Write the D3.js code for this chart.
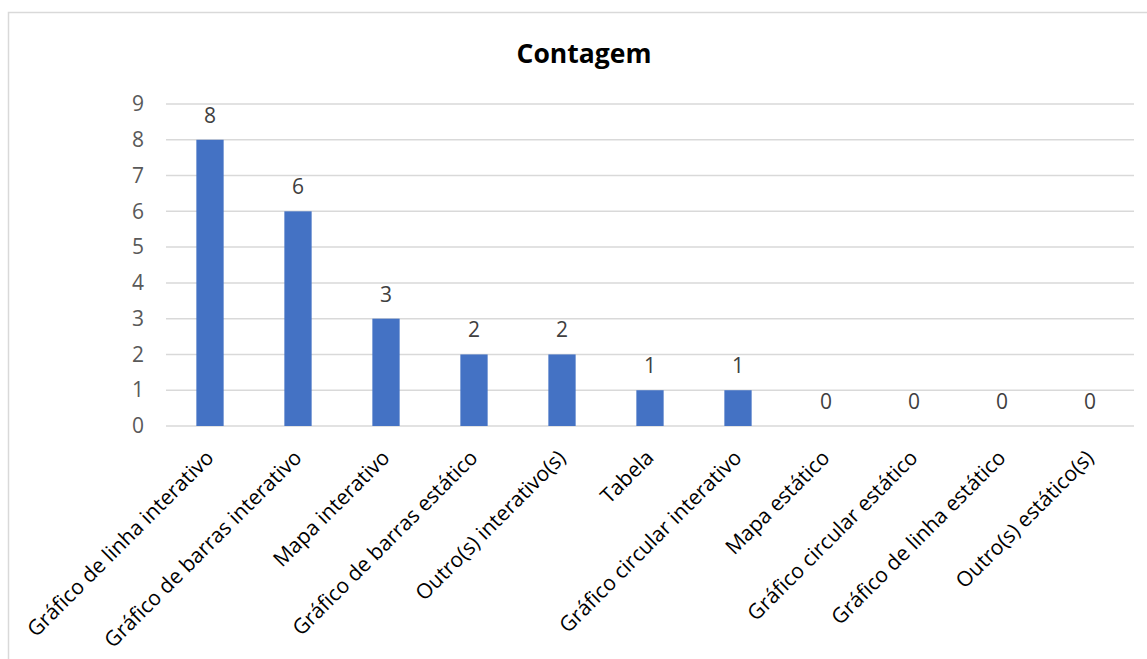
<!DOCTYPE html>
<html>
<head>
<meta charset="utf-8">
<script src="https://cdn.jsdelivr.net/npm/d3@7"></script>
<style>
  html, body { margin: 0; padding: 0; background: #fff; }
  svg { display: block; }
</style>
</head>
<body>
<svg id="chart" width="1147" height="659"></svg>
<script>
// Chart data
const categories = [
  "Gráfico de linha interativo",
  "Gráfico de barras interativo",
  "Mapa interativo",
  "Gráfico de barras estático",
  "Outro(s) interativo(s)",
  "Tabela",
  "Gráfico circular interativo",
  "Mapa estático",
  "Gráfico circular estático",
  "Gráfico de linha estático",
  "Outro(s) estático(s)"
];
const counts = [8, 6, 3, 2, 2, 1, 1, 0, 0, 0, 0];
const yTicks = [0, 1, 2, 3, 4, 5, 6, 7, 8, 9];
const title = "Contagem";

const svg = d3.select("#chart");
const font = "'Open Sans', 'Noto Sans', sans-serif";

// Outer chart frame
svg.append("rect")
  .attr("x", 8.5).attr("y", 12.5)
  .attr("width", 1160).attr("height", 700)
  .attr("fill", "#fff")
  .attr("stroke", "#d9d9d9").attr("stroke-width", 1.5);

const plot = { left: 166, right: 1134, top: 104, bottom: 426 };

const x = d3.scaleBand()
  .domain(categories)
  .range([plot.left, plot.right])
  .paddingInner(0.69)
  .paddingOuter(0.345);

const y = d3.scaleLinear()
  .domain([0, 9])
  .range([plot.bottom, plot.top]);

// Horizontal gridlines
svg.append("g")
  .selectAll("line")
  .data(yTicks)
  .join("line")
  .attr("x1", plot.left).attr("x2", plot.right)
  .attr("y1", d => y(d)).attr("y2", d => y(d))
  .attr("stroke", "#d9d9d9").attr("stroke-width", 1.5);

// Y axis tick labels
const yAxis = d3.axisLeft(y).tickValues(yTicks).tickSize(0).tickPadding(0);
const yg = svg.append("g")
  .attr("transform", `translate(${plot.left - 22},0)`)
  .call(yAxis);
yg.select(".domain").remove();
yg.selectAll("text")
  .attr("font-family", font)
  .attr("font-size", 21)
  .attr("fill", "#595959");

// Bars
svg.append("g")
  .selectAll("rect")
  .data(counts)
  .join("rect")
  .attr("x", (d, i) => x(categories[i]))
  .attr("width", x.bandwidth())
  .attr("y", d => y(d))
  .attr("height", d => y(0) - y(d))
  .attr("fill", "#4472C4");

// Value labels above bars
svg.append("g")
  .selectAll("text")
  .data(counts)
  .join("text")
  .attr("x", (d, i) => x(categories[i]) + x.bandwidth() / 2)
  .attr("y", d => y(d) - 17)
  .attr("text-anchor", "middle")
  .attr("font-family", font)
  .attr("font-size", 21)
  .attr("fill", "#404040")
  .text(d => d);

// Rotated category labels
svg.append("g")
  .selectAll("text")
  .data(categories)
  .join("text")
  .attr("transform", d => {
    const cx = x(d) + x.bandwidth() / 2 + 5;
    return `translate(${cx},${plot.bottom + 33}) rotate(-45)`;
  })
  .attr("text-anchor", "end")
  .attr("font-family", font)
  .attr("font-size", 21)
  .attr("fill", "#000")
  .text(d => d);

// Title
svg.append("text")
  .attr("x", 584)
  .attr("y", 63)
  .attr("text-anchor", "middle")
  .attr("font-family", font)
  .attr("font-weight", "bold")
  .attr("font-size", 26.5)
  .attr("fill", "#000")
  .text(title);
</script>
</body>
</html>
